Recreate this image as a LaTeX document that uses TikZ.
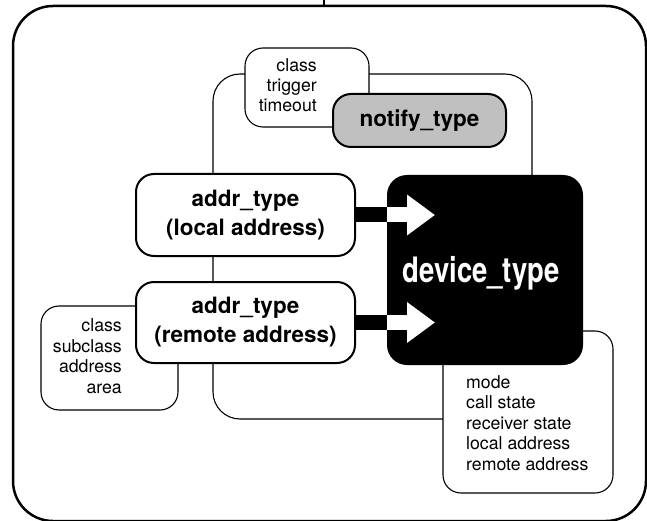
\documentclass[tikz,border=0pt]{standalone}
\usepackage{fontspec}
\usepackage{graphicx}
\setmainfont{TeX Gyre Heros}
\usetikzlibrary{arrows.meta}

\tikzset{
  frame/.style={draw, line width=2.5pt, rounded corners=40pt, inner sep=0pt, outer sep=0pt},
  group/.style={draw, line width=1.1pt, rounded corners=27pt, inner sep=0pt, outer sep=0pt},
  infobox/.style={draw, fill=white, line width=1.1pt, rounded corners=18pt, inner sep=0pt, outer sep=0pt},
  typebox/.style={draw, fill=white, line width=2pt, rounded corners=18pt, inner sep=0pt, outer sep=0pt,
    align=center, font=\fontsize{22.5}{29}\selectfont\bfseries},
  devbox/.style={fill=black, rounded corners=20pt, inner sep=0pt, outer sep=0pt},
  infotext/.style={inner sep=0pt, font=\fontsize{17.7}{20.4}\selectfont},
  shaft/.style={line width=15pt, black},
  whitearrow/.style={line width=15pt, white, -{Triangle[length=28pt, width=39pt]}}
}

\begin{document}
\begin{tikzpicture}[x=1pt, y=-1pt]
  \useasboundingbox (0,0) rectangle (647,521);
  \clip (0,0) rectangle (647,521);

  % outer frame with its stem at the top
  \node[frame, minimum width=633pt, minimum height=515pt] (outer) at (329.5,263.5) {};
  \coordinate (stemtop) at (324,0);
  \draw[line width=2.5pt] (stemtop) -- (stemtop |- outer.north);

  % thin enclosing group behind the type boxes
  \node[group, minimum width=319pt, minimum height=345pt] (grp) at (372.5,246.5) {};

  % attribute lists (anchored on the baseline of their last line)
  \node[infobox, minimum width=124pt, minimum height=79pt] (nattr) at (307,87.5) {};
  \node[infotext, anchor=base east, align=right] (nattrtxt) at (317,112)
    {class\\trigger\\timeout};

  \node[infobox, minimum width=137pt, minimum height=104pt] (aattr) at (109.5,358) {};
  \node[infotext, anchor=base east, align=right] (aattrtxt) at (122,393)
    {class\\subclass\\address\\area};

  \node[infobox, minimum width=170pt, minimum height=162pt] (dattr) at (528,412) {};
  \node[infotext, anchor=base west, align=left] (dattrtxt) at (466,470)
    {mode\\call state\\receiver state\\local address\\remote address};

  % type boxes
  \node[typebox, fill={rgb,255:red,192;green,192;blue,192}, minimum width=173pt, minimum height=53pt]
    (notify) at (419.5,120.5) {notify\_type};
  \node[typebox, minimum width=219pt, minimum height=82pt] (local) at (245.5,215)
    {addr\_type\\(local address)};
  \node[typebox, minimum width=219pt, minimum height=81pt] (remote) at (245.5,322.5)
    {addr\_type\\(remote address)};

  \node[devbox, minimum width=196pt, minimum height=190pt] (device) at (485,270) {};
  \node[anchor=base, inner sep=0pt, text=white] (devtxt) at (481,282)
    {\scalebox{0.785}[1]{\fontsize{35}{40}\selectfont\bfseries device\_type}};

  % address types feeding the device type
  \draw[shaft] (local.east) -- (local.east -| device.west);
  \draw[whitearrow] (local.east -| device.west) -- ++(48,0);
  \draw[shaft] (remote.east) -- (remote.east -| device.west);
  \draw[whitearrow] (remote.east -| device.west) -- ++(48,0);
\end{tikzpicture}
\end{document}
